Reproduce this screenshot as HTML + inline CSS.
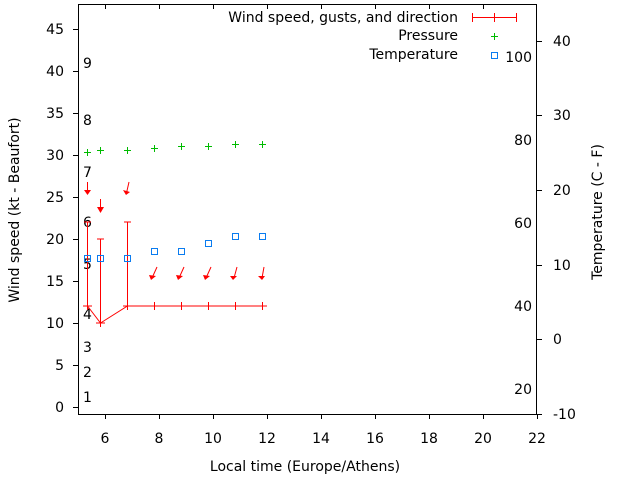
<!DOCTYPE html>
<html><head><meta charset="utf-8"><style>
body{margin:0;background:#fff}
svg{display:block;font-family:"DejaVu Sans",sans-serif;font-size:14px}
</style></head><body>
<svg width="640" height="480" viewBox="0 0 640 480">
<rect width="640" height="480" fill="#fff"/>
<g stroke="#000" stroke-width="1" fill="none">
<rect x="78.5" y="4.5" width="458" height="410"/>
<path d="M73 407.5h5M73 365.5h5M73 323.5h5M73 281.5h5M73 239.5h5M73 197.5h5M73 155.5h5M73 113.5h5M73 71.5h5M73 29.5h5"/>
<path d="M105.5 414v5M159.5 414v5M213.5 414v5M267.5 414v5M321.5 414v5M375.5 414v5M429.5 414v5M483.5 414v5M537.5 414v5"/>
<path d="M105.5 4v5M159.5 4v5M213.5 4v5M267.5 4v5M321.5 4v5M375.5 4v5M429.5 4v5M483.5 4v5"/>
<path d="M537 414.5h5M537 339.5h5M537 265.5h5M537 190.5h5M537 115.5h5M537 41.5h5"/>
</g>
<g text-anchor="end" fill="#000">
<text x="64" y="412">0</text><text x="64" y="370">5</text><text x="64" y="328">10</text><text x="64" y="286">15</text><text x="64" y="244">20</text><text x="64" y="202">25</text><text x="64" y="160">30</text><text x="64" y="118">35</text><text x="64" y="76">40</text><text x="64" y="34">45</text>
</g>
<g text-anchor="middle">
<text x="105" y="443">6</text><text x="159" y="443">8</text><text x="213" y="443">10</text><text x="267" y="443">12</text><text x="321" y="443">14</text><text x="375" y="443">16</text><text x="429" y="443">18</text><text x="483" y="443">20</text><text x="537" y="443">22</text>
<text x="305" y="471">Local time (Europe/Athens)</text>
</g>
<g>
<text x="553" y="419">-10</text><text x="553" y="344">0</text><text x="553" y="270">10</text><text x="553" y="195">20</text><text x="553" y="120">30</text><text x="553" y="46">40</text>
</g>
<text transform="translate(19,210) rotate(-90)" text-anchor="middle">Wind speed (kt - Beaufort)</text>
<text transform="translate(602,212) rotate(-90)" text-anchor="middle">Temperature (C - F)</text>
<g>
<text x="83" y="402">1</text><text x="83" y="377">2</text><text x="83" y="352">3</text><text x="83" y="319">4</text><text x="83" y="269">5</text><text x="83" y="227">6</text><text x="83" y="177">7</text><text x="83" y="125">8</text><text x="83" y="68">9</text>
</g>
<g text-anchor="end">
<text x="532" y="62">100</text><text x="532" y="145">80</text><text x="532" y="228">60</text><text x="532" y="311">40</text><text x="532" y="394">20</text>
<text x="458" y="22">Wind speed, gusts, and direction</text>
<text x="458" y="40">Pressure</text>
<text x="458" y="59">Temperature</text>
</g>
<g stroke="#f00" fill="none"><path d="M472 17.5h45M472.5 13v9M494.5 13v9M516.5 13v9"/></g>
<path d="M491 36.5h7M494.5 33v7" stroke="#0b0"/>
<rect x="491.5" y="52.5" width="6" height="6" fill="none" stroke="#0a7cf0"/>
<g stroke="#f00" fill="none">
<path d="M87.5 306L100.5 323L127.5 306H262.5"/>
<path d="M87.5 222V310M100.5 239V323M127.5 222V306"/>
<path d="M84 222h7M97 239h7M124 222h7"/>
<path d="M83 306h9M96 323h9M123 306h9M150 306h9M177 306h9M204 306h9M231 306h9M258 306h9"/>
<path d="M154.5 302v8M181.5 302v8M208.5 302v8M235.5 302v8M262.5 302v8M87.5 302v8M100.5 319v8M127.5 302v8"/>
<path d="M87.5 182V193M100.5 199V212M129 182L126.5 193M157 267L152 278M184 267L179 278M211 267L206 278M237 267L234 278M264 267L262 278"/>
</g>
<g fill="#f00">
<path d="M84 190L91 190L87.5 195Z"/><path d="M97 207L104 207L100.5 213Z"/><path d="M123 190L130 192L126 195Z"/>
<path d="M149 275L156 276L151 280Z"/><path d="M176 275L183 276L178 280Z"/><path d="M203 275L210 276L205 280Z"/><path d="M230 276L237 276L233 280Z"/><path d="M258 276L265 276L262 280Z"/>
</g>
<g stroke="#0b0" fill="none">
<path d="M84 152.5h7M87.5 149v7M97 150.5h7M100.5 147v7M124 150.5h7M127.5 147v7M151 148.5h7M154.5 145v7M178 146.5h7M181.5 143v7M205 146.5h7M208.5 143v7M232 144.5h7M235.5 141v7M259 144.5h7M262.5 141v7"/>
</g>
<g stroke="#0a7cf0" fill="none">
<rect x="84.5" y="255.5" width="6" height="6"/><rect x="97.5" y="255.5" width="6" height="6"/><rect x="124.5" y="255.5" width="6" height="6"/>
<rect x="151.5" y="248.5" width="6" height="6"/><rect x="178.5" y="248.5" width="6" height="6"/><rect x="205.5" y="240.5" width="6" height="6"/>
<rect x="232.5" y="233.5" width="6" height="6"/><rect x="259.5" y="233.5" width="6" height="6"/>
</g>
</svg>
</body></html>
